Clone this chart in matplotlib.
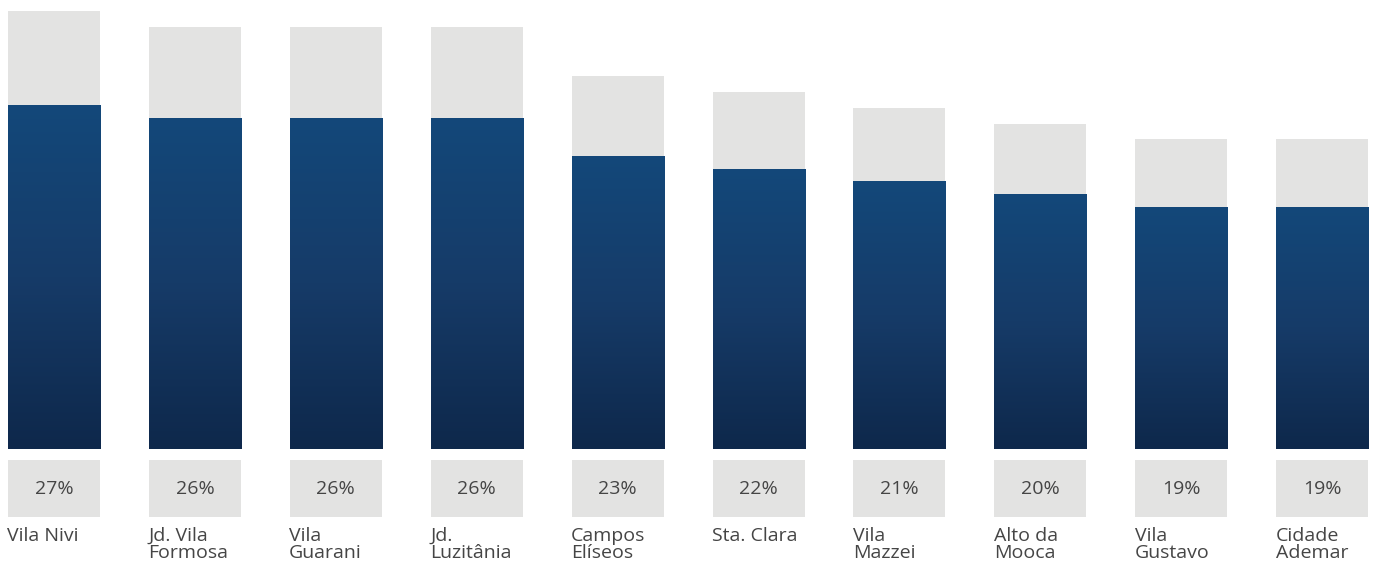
import numpy as np
import matplotlib
matplotlib.use("Agg")
import matplotlib.pyplot as plt
from matplotlib.colors import LinearSegmentedColormap

# Neighbourhood shares and their reference totals
bairros = ["Vila Nivi", "Jd. Vila\nFormosa", "Vila\nGuarani", "Jd.\nLuzitânia",
           "Campos\nElíseos", "Sta. Clara", "Vila\nMazzei", "Alto da\nMooca",
           "Vila\nGustavo", "Cidade\nAdemar"]
percentuais = [27, 26, 26, 26, 23, 22, 21, 20, 19, 19]
referencia = [34.4, 33.1, 33.1, 33.1, 29.3, 28.0, 26.8, 25.5, 24.3, 24.3]

W, H = 1376, 562
fig = plt.figure(figsize=(W / 100, H / 100), dpi=100)
fig.patch.set_facecolor("white")

FONT = ["Open Sans", "DejaVu Sans"]
GRAY = "#e3e3e2"
TEXT = "#454545"
BAR_W = 0.653
XLIM = (-0.383, 9.382)

# main bar area
ax = fig.add_axes([0, (H - 449) / H, 1, 449 / H])
ax.set_xlim(*XLIM)
ax.set_ylim(0, 449 / 12.74)
ax.axis("off")

x = np.arange(len(bairros))
ax.bar(x, referencia, width=BAR_W, color=GRAY, zorder=1)
blue = ax.bar(x, percentuais, width=BAR_W, color="none", zorder=2)

cmap = LinearSegmentedColormap.from_list("navy", ["#0e284b", "#163b68", "#13487a"])
grad = np.linspace(0, 1, 256).reshape(-1, 1)
for rect in blue:
    x0, y0 = rect.get_x(), rect.get_y()
    w, h = rect.get_width(), rect.get_height()
    im = ax.imshow(grad, cmap=cmap, origin="lower", aspect="auto",
                   extent=[x0, x0 + w, y0, y0 + h], zorder=2,
                   interpolation="bilinear")
    im.set_clip_path(rect)
ax.set_xlim(*XLIM)
ax.set_ylim(0, 449 / 12.74)

# value boxes row
axl = fig.add_axes([0, (H - 517) / H, 1, 57 / H])
axl.set_xlim(*XLIM)
axl.set_ylim(0, 1)
axl.axis("off")
axl.bar(x, [1] * len(x), width=BAR_W, color=GRAY)
for xi, p in zip(x, percentuais):
    axl.text(xi, 0.5, f"{p}%", ha="center", va="center", fontsize=14,
             color=TEXT, family=FONT)

# neighbourhood names under the boxes
for xi, name in zip(x, bairros):
    axl.text(xi - BAR_W / 2 - 0.004, -0.17, name, ha="left", va="top", fontsize=14,
             color=TEXT, family=FONT, linespacing=0.97, clip_on=False)

fig.savefig("out.png", dpi=100, facecolor="white")
